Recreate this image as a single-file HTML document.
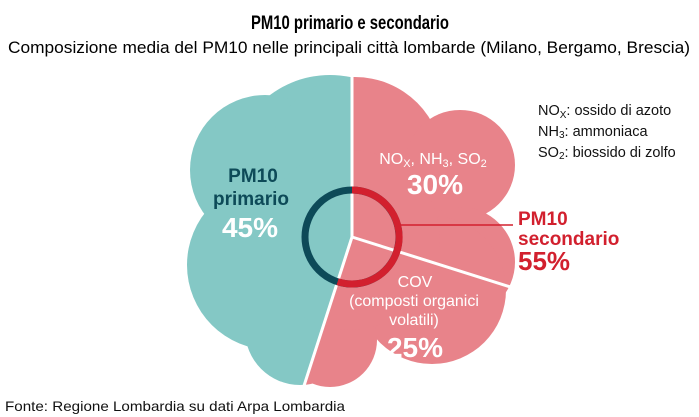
<!DOCTYPE html>
<html><head><meta charset="utf-8"><style>
html,body{margin:0;padding:0;background:#fff;}
svg{display:block;font-family:"Liberation Sans",sans-serif;}
</style></head><body>
<svg width="699" height="417" viewBox="0 0 699 417" xmlns="http://www.w3.org/2000/svg">
<defs>
<g id="cloud">
<circle cx="330" cy="175" r="100"/>
<circle cx="265" cy="170" r="75"/>
<circle cx="272" cy="265" r="85"/>
<circle cx="300" cy="330" r="55"/>
<circle cx="355" cy="165" r="88"/>
<circle cx="460" cy="165" r="55"/>
<circle cx="460" cy="262" r="55"/>
<circle cx="432" cy="290" r="74"/>
<circle cx="330" cy="340" r="47"/>
<circle cx="350" cy="240" r="90"/>
</g>
<clipPath id="cl"><polygon points="352,237 352,0 0,0 0,417 303,417 303,386"/></clipPath>
<clipPath id="cr"><polygon points="352,237 352,0 699,0 699,287 513,287"/></clipPath>
<clipPath id="cb"><polygon points="352,237 513,287 699,287 699,417 303,417 303,386"/></clipPath>
</defs>
<text x="350" y="29" text-anchor="middle" font-size="19" font-weight="bold" textLength="198" lengthAdjust="spacingAndGlyphs">PM10 primario e secondario</text>
<text x="8" y="53" font-size="17" textLength="682" lengthAdjust="spacingAndGlyphs">Composizione media del PM10 nelle principali città lombarde (Milano, Bergamo, Brescia)</text>
<g clip-path="url(#cl)" fill="#84c8c5"><use href="#cloud"/></g>
<g clip-path="url(#cr)" fill="#e8838a"><use href="#cloud"/></g>
<g clip-path="url(#cb)" fill="#e8838a"><use href="#cloud"/></g>
<line x1="352" y1="70" x2="352" y2="237" stroke="#fff" stroke-width="3"/>
<line x1="352" y1="237" x2="520" y2="290" stroke="#fff" stroke-width="3"/>
<line x1="352" y1="237" x2="302" y2="392" stroke="#fff" stroke-width="3"/>
<circle cx="352" cy="237" r="47" fill="none" stroke="#0d4a58" stroke-width="7"/>
<path d="M352,190 A47,47 0 1 1 337.6,281.7" fill="none" stroke="#d2202e" stroke-width="7"/>
<line x1="399" y1="225" x2="513" y2="225" stroke="#d2202e" stroke-width="1.5"/>
<g font-weight="bold" font-size="19" fill="#0d4a58" text-anchor="middle">
<text x="253" y="182">PM10</text><text x="251" y="205">primario</text></g>
<text x="250" y="237" text-anchor="middle" font-weight="bold" font-size="28" fill="#fff">45%</text>
<text x="433" y="164" text-anchor="middle" font-size="16" fill="#fff">NO<tspan font-size="11" dy="3">X</tspan><tspan dy="-3">, NH</tspan><tspan font-size="11" dy="3">3</tspan><tspan dy="-3">, SO</tspan><tspan font-size="11" dy="3">2</tspan></text>
<text x="435" y="194" text-anchor="middle" font-weight="bold" font-size="28" fill="#fff">30%</text>
<g font-size="16" fill="#fff" text-anchor="middle"><text x="415" y="287">COV</text><text x="414" y="306">(composti organici</text><text x="414" y="325">volatili)</text></g>
<text x="415" y="357" text-anchor="middle" font-weight="bold" font-size="28" fill="#fff">25%</text>
<g font-weight="bold" font-size="19" fill="#d2202e"><text x="518" y="225">PM10</text><text x="518" y="245">secondario</text><text x="518" y="270" font-size="26">55%</text></g>
<g font-size="14.5" fill="#111"><text x="538" y="115">NO<tspan font-size="10" dy="3">X</tspan><tspan dy="-3">: ossido di azoto</tspan></text>
<text x="538" y="136">NH<tspan font-size="10" dy="2">3</tspan><tspan dy="-2">: ammoniaca</tspan></text>
<text x="538" y="157">SO<tspan font-size="10" dy="2">2</tspan><tspan dy="-2">: biossido di zolfo</tspan></text></g>
<text x="5" y="411" font-size="14" fill="#111" textLength="340" lengthAdjust="spacingAndGlyphs">Fonte: Regione Lombardia su dati Arpa Lombardia</text>
</svg>
</body></html>
